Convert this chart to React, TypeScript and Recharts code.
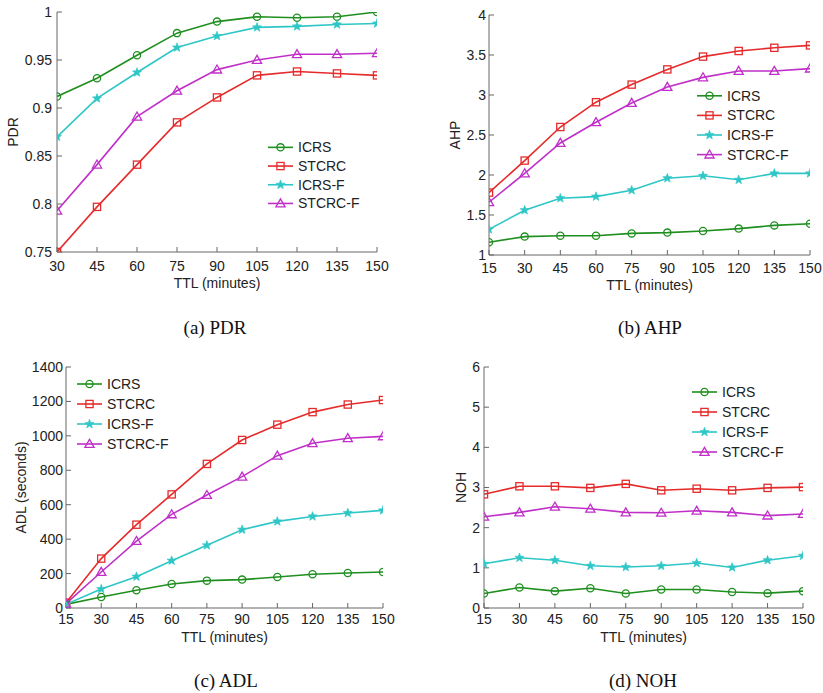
import React from 'react';
import { LineChart, Line, XAxis, YAxis, Legend } from 'recharts';

// TTL values (minutes)
const ttlPdr = [30, 45, 60, 75, 90, 105, 120, 135, 150];
const ttl = [15, 30, 45, 60, 75, 90, 105, 120, 135, 150];

// (a) PDR
const pdrICRS = [0.912, 0.931, 0.955, 0.978, 0.99, 0.995, 0.994, 0.995, 1.0];
const pdrSTCRC = [0.75, 0.797, 0.841, 0.885, 0.911, 0.934, 0.938, 0.936, 0.934];
const pdrICRSF = [0.87, 0.91, 0.937, 0.963, 0.975, 0.984, 0.985, 0.987, 0.988];
const pdrSTCRCF = [0.793, 0.841, 0.891, 0.918, 0.94, 0.95, 0.956, 0.956, 0.957];

// (b) AHP
const ahpICRS = [1.16, 1.23, 1.24, 1.24, 1.27, 1.28, 1.3, 1.33, 1.37, 1.39];
const ahpSTCRC = [1.78, 2.18, 2.6, 2.91, 3.13, 3.32, 3.48, 3.55, 3.59, 3.62];
const ahpICRSF = [1.32, 1.56, 1.71, 1.73, 1.81, 1.96, 1.99, 1.94, 2.02, 2.02];
const ahpSTCRCF = [1.66, 2.02, 2.4, 2.66, 2.9, 3.1, 3.22, 3.3, 3.3, 3.33];

// (c) ADL
const adlICRS = [21, 64, 103, 139, 159, 165, 180, 196, 203, 209];
const adlSTCRC = [31, 287, 484, 660, 837, 976, 1065, 1138, 1182, 1208];
const adlICRSF = [21, 110, 182, 275, 364, 455, 503, 532, 552, 567];
const adlSTCRCF = [25, 209, 389, 544, 656, 763, 885, 957, 986, 997];

// (d) NOH
const nohICRS = [0.36, 0.51, 0.42, 0.49, 0.36, 0.46, 0.46, 0.4, 0.37, 0.42];
const nohSTCRC = [2.83, 3.03, 3.03, 2.99, 3.09, 2.93, 2.97, 2.93, 2.99, 3.01];
const nohICRSF = [1.1, 1.25, 1.19, 1.05, 1.02, 1.05, 1.12, 1.01, 1.19, 1.3];
const nohSTCRCF = [2.27, 2.38, 2.52, 2.47, 2.38, 2.37, 2.42, 2.38, 2.3, 2.34];

const pdrTicks = [0.75, 0.8, 0.85, 0.9, 0.95, 1];
const ahpTicks = [1, 1.5, 2, 2.5, 3, 3.5, 4];
const adlTicks = [0, 200, 400, 600, 800, 1000, 1200, 1400];
const nohTicks = [0, 1, 2, 3, 4, 5, 6];

const seriesNames = ['ICRS', 'STCRC', 'ICRS-F', 'STCRC-F'];

const STYLE: Record<string, { color: string; shape: string }> = {
  'ICRS': { color: '#1f8f1f', shape: 'circle' },
  'STCRC': { color: '#e52b2b', shape: 'square' },
  'ICRS-F': { color: '#2ec6c6', shape: 'star' },
  'STCRC-F': { color: '#c030c8', shape: 'triangle' },
};

const FONT = '"Liberation Sans", Arial, sans-serif';
const AXIS = '#666';
const TEXT = '#222';

function starPath(cx: number, cy: number, ro: number, ri: number) {
  let d = '';
  for (let i = 0; i < 10; i++) {
    const r = i % 2 === 0 ? ro : ri;
    const a = -Math.PI / 2 + (i * Math.PI) / 5;
    d += (i === 0 ? 'M' : 'L') + (cx + r * Math.cos(a)).toFixed(2) + ',' + (cy + r * Math.sin(a)).toFixed(2);
  }
  return d + 'Z';
}

const Marker = ({ cx, cy, shape, color }: { cx: number; cy: number; shape: string; color: string }) => {
  if (cx == null || cy == null) return <g />;
  if (shape === 'circle') return <circle cx={cx} cy={cy} r={3.6} fill="none" stroke={color} strokeWidth={1.3} />;
  if (shape === 'square') return <rect x={cx - 3.6} y={cy - 3.6} width={7.2} height={7.2} fill="none" stroke={color} strokeWidth={1.3} />;
  if (shape === 'triangle')
    return <path d={`M${cx},${cy - 4.6}L${cx + 4.6},${cy + 3.4}L${cx - 4.6},${cy + 3.4}Z`} fill="none" stroke={color} strokeWidth={1.3} />;
  return <path d={starPath(cx, cy, 4.8, 2)} fill={color} stroke={color} strokeWidth={0.6} />;
};

// legend keeps the series order, not recharts' sorted order
const makeLegend = (rowH: number) => ({ payload }: any) => {
  const items = [...(payload || [])].sort((a: any, b: any) => seriesNames.indexOf(a.value) - seriesNames.indexOf(b.value));
  return (
    <svg width={110} height={rowH * 4} style={{ display: 'block', overflow: 'visible' }}>
      {items.map((p: any, i: number) => {
        const st = STYLE[p.value];
        const y = i * rowH + rowH / 2;
        return (
          <g key={p.value}>
            <line x1={0} x2={25} y1={y} y2={y} stroke={st.color} strokeWidth={1.6} />
            <Marker cx={12.5} cy={y} shape={st.shape} color={st.color} />
            <text x={30} y={y} dominantBaseline="central" fontSize={14} fontFamily={FONT} fill={TEXT}>
              {p.value}
            </text>
          </g>
        );
      })}
    </svg>
  );
};

interface PanelProps {
  left: number;
  top: number;
  width: number;
  height: number;
  margin: { top: number; right: number; bottom: number; left: number };
  yWidth: number;
  xHeight: number;
  xs: number[];
  series: number[][];
  yTicks: number[];
  yLabel: string;
  yLabelOffset: number;
  xTickMargin: number;
  yTickMargin: number;
  xLabelOffset: number;
  legendPos: { left: number; top: number };
  rowH: number;
  caption: string;
  captionX: number;
  captionY: number;
}

const Panel = (p: PanelProps) => {
  const data = p.xs.map((x, i) => {
    const row: any = { ttl: x };
    seriesNames.forEach((n, k) => (row[n] = p.series[k][i]));
    return row;
  });
  const xDomain = [p.xs[0], p.xs[p.xs.length - 1]];
  const yDomain = [p.yTicks[0], p.yTicks[p.yTicks.length - 1]];
  const tickStyle = { fontSize: 14, fill: TEXT, fontFamily: FONT };
  return (
    <>
      <div style={{ position: 'absolute', left: p.left, top: p.top }}>
        <LineChart width={p.width} height={p.height} data={data} margin={p.margin}>
          <XAxis
            xAxisId="x"
            dataKey="ttl"
            type="number"
            domain={xDomain}
            ticks={p.xs}
            interval={0}
            allowDataOverflow
            height={p.xHeight}
            tickSize={-5}
            tickMargin={p.xTickMargin}
            tick={tickStyle}
            stroke={AXIS}
            axisLine={{ stroke: AXIS }}
            tickLine={{ stroke: AXIS }}
            label={{ value: 'TTL (minutes)', position: 'insideBottom', offset: p.xLabelOffset, style: { fontSize: 14, fill: TEXT, fontFamily: FONT } }}
          />
          <XAxis
            xAxisId="xt"
            orientation="top"
            dataKey="ttl"
            type="number"
            domain={xDomain}
            ticks={p.xs}
            interval={0}
            allowDataOverflow
            height={0}
            tickSize={-5}
            tick={() => <g />}
            axisLine={{ stroke: AXIS }}
            tickLine={{ stroke: AXIS }}
          />
          <YAxis
            yAxisId="y"
            type="number"
            domain={yDomain}
            ticks={p.yTicks}
            interval={0}
            allowDataOverflow
            width={p.yWidth}
            tickSize={-5}
            tickMargin={p.yTickMargin}
            tick={tickStyle}
            axisLine={{ stroke: AXIS }}
            tickLine={{ stroke: AXIS }}
            label={{ value: p.yLabel, angle: -90, position: 'insideLeft', offset: p.yLabelOffset, style: { textAnchor: 'middle', fontSize: 14, fill: TEXT, fontFamily: FONT } }}
          />
          <YAxis
            yAxisId="yr"
            orientation="right"
            type="number"
            domain={yDomain}
            ticks={p.yTicks}
            interval={0}
            allowDataOverflow
            width={0}
            tickSize={-5}
            tick={() => <g />}
            axisLine={{ stroke: AXIS }}
            tickLine={{ stroke: AXIS }}
          />
          {seriesNames.map((n) => (
            <Line
              key={n}
              xAxisId="x"
              yAxisId="y"
              dataKey={n}
              name={n}
              type="linear"
              stroke={STYLE[n].color}
              strokeWidth={1.6}
              isAnimationActive={false}
              dot={(d: any) => <Marker key={`${n}-${d.index}`} cx={d.cx} cy={d.cy} shape={STYLE[n].shape} color={STYLE[n].color} />}
              activeDot={false}
            />
          ))}
          <Legend
            layout="vertical"
            align="center"
            verticalAlign="middle"
            content={makeLegend(p.rowH)}
            wrapperStyle={{ position: 'absolute', left: p.legendPos.left, top: p.legendPos.top, width: 110, height: p.rowH * 4 }}
          />
        </LineChart>
      </div>
      <div
        style={{
          position: 'absolute',
          left: p.captionX,
          top: p.captionY,
          transform: 'translate(-50%, -50%)',
          fontFamily: '"Liberation Serif", "Times New Roman", serif',
          fontSize: 19,
          lineHeight: 1,
          whiteSpace: 'nowrap',
          color: '#111',
        }}
      >
        {p.caption}
      </div>
    </>
  );
};

export default function App() {
  return (
    <div style={{ position: 'absolute', left: 0, top: 0, width: 823, height: 693, background: '#fff', overflow: 'hidden' }}>
      <Panel
        left={0}
        top={0}
        width={390}
        height={300}
        margin={{ top: 12, right: 13, bottom: 0, left: 0 }}
        yWidth={57}
        xHeight={48}
        xs={ttlPdr}
        series={[pdrICRS, pdrSTCRC, pdrICRSF, pdrSTCRCF]}
        yTicks={pdrTicks}
        yLabel="PDR"
        yLabelOffset={13}
        xTickMargin={14}
        yTickMargin={10}
        xLabelOffset={12}
        legendPos={{ left: 268, top: 137.6 }}
        rowH={18.7}
        caption="(a) PDR"
        captionX={215}
        captionY={327}
      />
      <Panel
        left={430}
        top={0}
        width={392}
        height={300}
        margin={{ top: 15, right: 12, bottom: 0, left: 0 }}
        yWidth={59}
        xHeight={45}
        xs={ttl}
        series={[ahpICRS, ahpSTCRC, ahpICRSF, ahpSTCRCF]}
        yTicks={ahpTicks}
        yLabel="AHP"
        yLabelOffset={25}
        xTickMargin={13}
        yTickMargin={8}
        xLabelOffset={10}
        legendPos={{ left: 267, top: 86 }}
        rowH={19.6}
        caption="(b) AHP"
        captionX={650}
        captionY={327}
      />
      <Panel
        left={0}
        top={350}
        width={400}
        height={300}
        margin={{ top: 17, right: 17, bottom: 0, left: 0 }}
        yWidth={66}
        xHeight={42}
        xs={ttl}
        series={[adlICRS, adlSTCRC, adlICRSF, adlSTCRCF]}
        yTicks={adlTicks}
        yLabel="ADL (seconds)"
        yLabelOffset={21}
        xTickMargin={11}
        yTickMargin={8}
        xLabelOffset={8}
        legendPos={{ left: 77, top: 24 }}
        rowH={20}
        caption="(c) ADL"
        captionX={226}
        captionY={680}
      />
      <Panel
        left={420}
        top={350}
        width={400}
        height={300}
        margin={{ top: 17, right: 17, bottom: 0, left: 0 }}
        yWidth={64}
        xHeight={42}
        xs={ttl}
        series={[nohICRS, nohSTCRC, nohICRSF, nohSTCRCF]}
        yTicks={nohTicks}
        yLabel="NOH"
        yLabelOffset={41}
        xTickMargin={11}
        yTickMargin={9}
        xLabelOffset={8}
        legendPos={{ left: 272, top: 32 }}
        rowH={20}
        caption="(d) NOH"
        captionX={643}
        captionY={680}
      />
    </div>
  );
}
